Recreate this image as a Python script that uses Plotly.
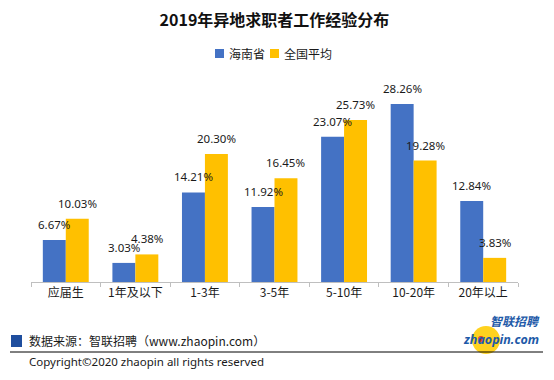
import plotly.graph_objects as go

categories = ["应届生", "1年及以下", "1-3年", "3-5年", "5-10年", "10-20年", "20年以上"]
hainan = [6.67, 3.03, 14.21, 11.92, 23.07, 28.26, 12.84]
national = [10.03, 4.38, 20.30, 16.45, 25.73, 19.28, 3.83]
series_names = ["海南省", "全国平均"]

BLUE = "#4472C4"
GOLD = "#FFC000"
FONT = "Noto Sans, Noto Sans CJK SC, sans-serif"
CJK = "Noto Sans CJK SC, Noto Sans, sans-serif"

W, H = 554, 380
L, R, T, B = 31, 36, 93, 98
PW, PH = W - L - R, H - T - B
BARGAP = 0.34


def px(x):
    return (x - L) / PW


def py(y):
    return (H - B - y) / PH


fig = go.Figure()
fig.add_trace(go.Bar(x=categories, y=hainan, name=series_names[0], marker_color=BLUE,
                     marker_line_width=0, hoverinfo="skip"))
fig.add_trace(go.Bar(x=categories, y=national, name=series_names[1], marker_color=GOLD,
                     marker_line_width=0, hoverinfo="skip"))

barw = PW / len(categories) * (1 - BARGAP) / 2
annotations = []
for vals, sh in ((hainan, -barw / 2), (national, barw / 2)):
    for c, v in zip(categories, vals):
        annotations.append(dict(x=c, y=v, xref="x", yref="y", text=f"{v:.2f}%",
                                showarrow=False, yanchor="bottom", xanchor="center",
                                xshift=sh, yshift=6,
                                font=dict(family=FONT, size=11.5, color="#1a1a1a")))

# custom legend (square + text)
legend_items = [(series_names[0], BLUE, 215), (series_names[1], GOLD, 270)]
shapes = []
for name, col, x0 in legend_items:
    shapes.append(dict(type="rect", xref="paper", yref="paper", x0=px(x0), x1=px(x0 + 9),
                       y0=py(58), y1=py(49), fillcolor=col, line_width=0))
    annotations.append(dict(x=px(x0 + 12), y=py(53.5), xref="paper", yref="paper",
                            xanchor="left", yanchor="middle", text=name, showarrow=False,
                            font=dict(family=CJK, size=12, color="#1a1a1a")))

# footer texts
annotations += [
    dict(x=px(27), y=py(340), xref="paper", yref="paper", xanchor="left", yanchor="middle",
         text="数据来源：智联招聘（www.zhaopin.com）", showarrow=False,
         font=dict(family=CJK, size=12, color="#1a1a1a")),
    dict(x=px(27), y=py(361), xref="paper", yref="paper", xanchor="left", yanchor="middle",
         text="Copyright©2020 zhaopin all rights reserved", showarrow=False,
         font=dict(family=FONT, size=11.5, color="#1a1a1a")),
    dict(x=px(542), y=py(320), xref="paper", yref="paper", xanchor="right", yanchor="middle",
         text="<b><i>智联招聘</i></b>", showarrow=False,
         font=dict(family=CJK, size=12, color="#1E5AA8")),
    dict(x=px(541), y=py(339), xref="paper", yref="paper", xanchor="right", yanchor="middle",
         text="<b><i>zhaopin.com</i></b>", showarrow=False,
         font=dict(family=FONT, size=12.5, color="#1E5AA8")),
]

shapes += [
    dict(type="rect", xref="paper", yref="paper", x0=px(11), x1=px(22), y0=py(347), y1=py(335),
         fillcolor="#1F4E9E", line_width=0),
    dict(type="line", xref="paper", yref="paper", x0=px(10), x1=px(543), y0=py(352), y1=py(352),
         line=dict(color="#000000", width=1)),
    dict(type="circle", xref="paper", yref="paper", x0=px(472), x1=px(500), y0=py(354), y1=py(326),
         fillcolor="#FFD21F", line_width=0, layer="below"),
    dict(type="circle", xref="paper", yref="paper", x0=px(478), x1=px(484), y0=py(342), y1=py(336),
         fillcolor="#E8401C", line_width=0, layer="below"),
]

fig.update_layout(
    width=W, height=H,
    margin=dict(l=L, r=R, t=T, b=B, pad=0, autoexpand=False),
    paper_bgcolor="white", plot_bgcolor="white",
    barmode="group", bargap=BARGAP, bargroupgap=0,
    font=dict(family=FONT, size=12, color="#1a1a1a"),
    title=dict(text="<b>2019年异地求职者工作经验分布</b>", x=0.5, xref="paper", xanchor="center",
               y=1 - 20 / H, yref="container", yanchor="middle",
               font=dict(family=CJK, size=16, color="#111111")),
    showlegend=False,
    xaxis=dict(showline=True, linecolor="#BFBFBF", linewidth=1, ticks="outside",
               tickson="boundaries", ticklen=4, tickcolor="#BFBFBF",
               tickfont=dict(family=CJK, size=12, color="#1a1a1a"), showgrid=False,
               fixedrange=True, automargin=False),
    yaxis=dict(range=[0, 30], visible=False, showgrid=False, fixedrange=True),
    annotations=annotations,
    shapes=shapes,
)

fig.write_html("out.html", config={"displayModeBar": False, "staticPlot": True},
               post_script="document.body.style.margin='0';document.body.style.overflow='hidden';")
